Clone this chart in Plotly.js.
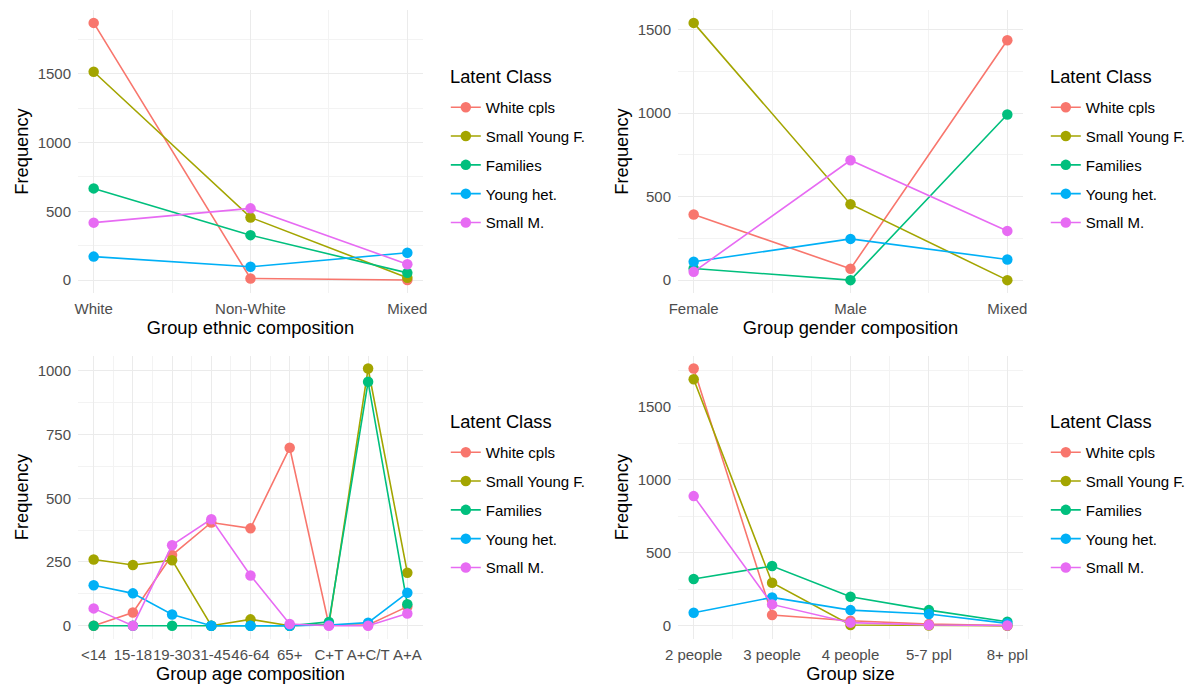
<!DOCTYPE html>
<html>
<head>
<meta charset="utf-8">
<script src="https://cdn.plot.ly/plotly-3.0.1.min.js"></script>
<style>
  html, body { margin: 0; padding: 0; background: #fff; }
  #plot { width: 1200px; height: 696px; }
</style>
</head>
<body>
<div id="plot"></div>
<script>
// Latent classes (one line per class in every panel)
var latentClasses = ["White cpls", "Small Young F.", "Families", "Young het.", "Small M."];
var classColors = ["#F8766D", "#A3A500", "#00BF7D", "#00B0F6", "#E76BF3"];

// Group ethnic composition
var ethnicCats = ["White", "Non-White", "Mixed"];
var ethnicFreq = [
  [1870, 12, 1],
  [1515, 456, 18],
  [667, 327, 53],
  [171, 97, 199],
  [418, 522, 116]
];

// Group gender composition
var genderCats = ["Female", "Male", "Mixed"];
var genderFreq = [
  [393, 68, 1437],
  [1541, 455, 0],
  [70, 0, 992],
  [110, 247, 124],
  [50, 718, 295]
];

// Group age composition
var ageCats = ["<14", "15-18", "19-30", "31-45", "46-64", "65+", "C+T", "A+C/T", "A+A"];
var ageFreq = [
  [0, 52, 277, 405, 382, 698, 3, 3, 75],
  [260, 238, 257, 0, 25, 0, 5, 1009, 208],
  [0, 0, 0, 0, 0, 0, 15, 957, 84],
  [159, 127, 44, 0, 0, 0, 3, 12, 129],
  [68, 0, 316, 418, 197, 7, 0, 0, 48]
];

// Group size
var sizeCats = ["2 people", "3 people", "4 people", "5-7 ppl", "8+ ppl"];
var sizeFreq = [
  [1762, 73, 34, 11, 1],
  [1689, 294, 5, 1, 0],
  [320, 409, 199, 107, 27],
  [89, 194, 107, 80, 16],
  [888, 146, 21, 5, 2]
];

var FONT = "Liberation Sans, Arial, sans-serif";
var H = 696;

var panels = [
  { cats: ethnicCats, freq: ethnicFreq, title: "Group ethnic composition", dtick: 500,
    xdom: [0.065, 0.3525], ydom: [0.579, 0.9856], lx: 0.3715, titleY: 76, legTop: 91 },
  { cats: genderCats, freq: genderFreq, title: "Group gender composition", dtick: 500,
    xdom: [0.565, 0.8525], ydom: [0.579, 0.9856], lx: 0.8715, titleY: 76, legTop: 91 },
  { cats: ageCats, freq: ageFreq, title: "Group age composition", dtick: 250,
    xdom: [0.065, 0.3525], ydom: [0.0825, 0.489], lx: 0.3715, titleY: 421, legTop: 436 },
  { cats: sizeCats, freq: sizeFreq, title: "Group size", dtick: 500,
    xdom: [0.565, 0.8525], ydom: [0.0825, 0.489], lx: 0.8715, titleY: 421, legTop: 436 }
];

var data = [];
var layout = {
  width: 1200,
  height: H,
  margin: { l: 0, r: 0, t: 0, b: 0 },
  paper_bgcolor: "#fff",
  plot_bgcolor: "#fff",
  font: { family: FONT, color: "#000" },
  hovermode: "closest",
  annotations: []
};

panels.forEach(function (p, k) {
  var n = k + 1;
  var sfx = n === 1 ? "" : String(n);
  var idx = p.cats.map(function (c, i) { return i + 1; });
  var ymax = 0;
  p.freq.forEach(function (row) { ymax = Math.max(ymax, Math.max.apply(null, row)); });

  p.freq.forEach(function (row, s) {
    data.push({
      type: "scatter",
      mode: "lines+markers",
      x: idx,
      y: row,
      text: p.cats,
      name: latentClasses[s],
      legend: "legend" + sfx,
      legendgroup: "p" + n + "-" + s,
      xaxis: "x" + sfx,
      yaxis: "y" + sfx,
      line: { color: classColors[s], width: 1.6 },
      marker: { color: classColors[s], size: 10.5 },
      hovertemplate: "%{text}: %{y}<extra>" + latentClasses[s] + "</extra>"
    });
  });

  var xpad = 0.05 * (p.cats.length - 1);
  layout["xaxis" + sfx] = {
    domain: p.xdom,
    anchor: "y" + sfx,
    range: [1 - xpad, p.cats.length + xpad],
    tickvals: idx,
    ticktext: p.cats,
    tickangle: 0,
    ticks: "outside",
    ticklen: 2,
    tickcolor: "rgba(0,0,0,0)",
    tickfont: { family: FONT, size: 15, color: "#4D4D4D" },
    showgrid: true,
    gridcolor: "#EBEBEB",
    gridwidth: 1.1,
    minor: { dtick: 0.5, tick0: 0.5, showgrid: true, gridcolor: "#F3F3F3", gridwidth: 0.6 },
    zeroline: false,
    showline: false,
    fixedrange: true,
    title: { text: p.title, standoff: 4, font: { family: FONT, size: 18.3, color: "#000" } }
  };
  layout["yaxis" + sfx] = {
    domain: p.ydom,
    anchor: "x" + sfx,
    range: [-0.05 * ymax, 1.05 * ymax],
    tick0: 0,
    dtick: p.dtick,
    ticks: "outside",
    ticklen: 3,
    tickcolor: "rgba(0,0,0,0)",
    tickfont: { family: FONT, size: 15, color: "#4D4D4D" },
    showgrid: true,
    gridcolor: "#EBEBEB",
    gridwidth: 1.1,
    minor: { dtick: p.dtick / 2, tick0: 0, showgrid: true, gridcolor: "#F3F3F3", gridwidth: 0.6 },
    zeroline: false,
    showline: false,
    fixedrange: true,
    title: { text: "Frequency", standoff: 4, font: { family: FONT, size: 18.3, color: "#000" } }
  };
  layout["legend" + sfx] = {
    x: p.lx,
    xanchor: "left",
    y: 1 - p.legTop / H,
    yanchor: "top",
    bgcolor: "rgba(0,0,0,0)",
    font: { family: FONT, size: 15, color: "#000" },
    traceorder: "grouped",
    tracegroupgap: 6.3
  };
  layout.annotations.push({
    text: "Latent Class",
    xref: "paper",
    yref: "paper",
    x: p.lx + 0.0015,
    xanchor: "left",
    y: 1 - p.titleY / H,
    yanchor: "middle",
    showarrow: false,
    font: { family: FONT, size: 18.3, color: "#000" }
  });
});

Plotly.newPlot("plot", data, layout, { displayModeBar: false });
</script>
</body>
</html>
